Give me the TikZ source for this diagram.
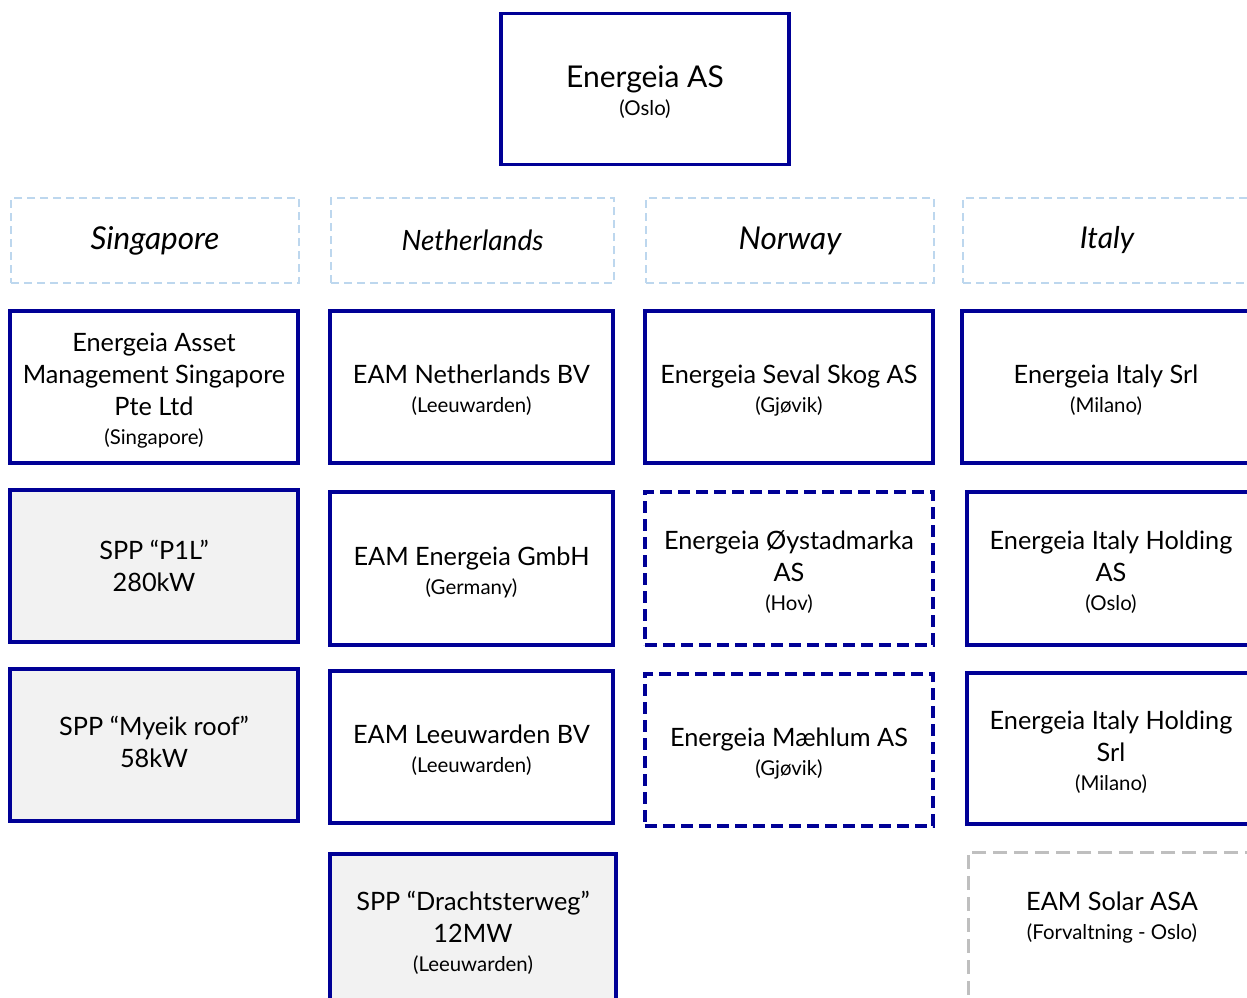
\documentclass[tikz,border=0pt]{standalone}
\usepackage{fontspec}
\setmainfont{Lato}
\definecolor{navy}{RGB}{0,0,150}
\definecolor{hdblue}{RGB}{189,215,238}
\definecolor{dgray}{RGB}{191,191,191}
\definecolor{sppfill}{RGB}{242,242,242}
\newcommand\mainsz{\fontsize{25.3}{32}\selectfont}
\newcommand\subsz{\fontsize{20.4}{24}\selectfont}
\newcommand\hdsz{\fontsize{31.5}{32}\selectfont\itshape}
\newcommand\tfix{\mbox{}\\[-6.5pt]}
\newcommand\subline[1]{\\[-3pt]{\subsz #1}}
\begin{document}
\begin{tikzpicture}[x=1pt,y=-1pt,
  box/.style={draw=navy, line width=3.5pt, fill=white, minimum width=288pt, minimum height=152pt, inner sep=0pt, align=center, font=\mainsz},
  dbox/.style={box, dash pattern=on 12pt off 6pt},
  spp/.style={box, fill=sppfill},
  ext/.style={box, draw=dgray, line width=3pt, dash pattern=on 14pt off 7pt},
  hd/.style={draw=hdblue, line width=2.5pt, dash pattern=on 8pt off 5pt, minimum width=288pt, minimum height=85pt, inner sep=0pt, font=\hdsz}]
\useasboundingbox (0,0) rectangle (1247,998);
\clip (0,0) rectangle (1247,998);
\fill[white] (0,0) rectangle (1247,998);
% top
\node[box, minimum height=151pt, font=\fontsize{30}{32}\selectfont] (top) at (645,89) {\mbox{}\\[-5pt]Energeia AS\\[-4pt]{\subsz (Oslo)}};
% headers
\node[hd] (hsg) at (155,240.5) {\raisebox{-2pt}{Singapore}};
\node[hd, minimum width=283pt, font=\fontsize{28}{32}\selectfont\itshape] (hnl) at (472.5,240.5) {Netherlands};
\node[hd] (hno) at (790,240.5) {\raisebox{-2pt}{Norway}};
\node[hd, font=\fontsize{30}{32}\selectfont\itshape] (hit) at (1107,240.5) {Italy};
% row 1
\node[box] (sg1) at (154,387) {\tfix Energeia Asset\\Management Singapore\\Pte Ltd\subline{(Singapore)}};
\node[box, minimum width=283pt] (nl1) at (471.5,387) {\tfix EAM Netherlands BV\subline{(Leeuwarden)}};
\node[box] (no1) at (789,387) {\tfix Energeia Seval Skog AS\subline{(Gjøvik)}};
\node[box] (it1) at (1106,387) {\tfix Energeia Italy Srl\subline{(Milano)}};
% row 2
\node[spp] (sg2) at (154,566) {SPP “P1L”\\280kW};
\node[box, minimum width=283pt, minimum height=153pt] (nl2) at (471.5,568.5) {\tfix EAM Energeia GmbH\subline{(Germany)}};
\node[dbox, minimum height=153pt] (no2) at (789,568.5) {\tfix Energeia Øystadmarka\\AS\subline{(Hov)}};
\node[box, minimum height=153pt] (it2) at (1111,568.5) {\tfix Energeia Italy Holding\\AS\subline{(Oslo)}};
% row 3
\node[spp] (sg3) at (154,745) {SPP “Myeik roof”\\58kW\\[-26pt]\mbox{}};
\node[box, minimum width=283pt] (nl3) at (471.5,747) {\tfix EAM Leeuwarden BV\subline{(Leeuwarden)}};
\node[dbox] (no3) at (789,750) {\tfix Energeia Mæhlum AS\subline{(Gjøvik)}};
\node[box, minimum height=151pt] (it3) at (1111,748.5) {\tfix Energeia Italy Holding\\Srl\subline{(Milano)}};
% row 4
\node[spp, minimum width=286pt] (nl4) at (473,930) {\tfix SPP “Drachtsterweg”\\12MW\subline{(Leeuwarden)}};
\node[ext, minimum height=156pt] (it4) at (1112,930) {EAM Solar ASA\subline{(Forvaltning - Oslo)}\\[-3pt]\mbox{}};
\end{tikzpicture}
\end{document}
